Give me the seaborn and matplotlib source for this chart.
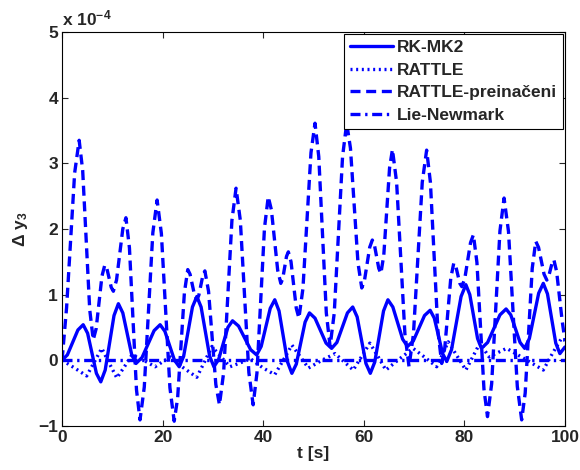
import matplotlib
matplotlib.use("Agg")
import matplotlib.pyplot as plt
import seaborn as sns

# -----------------------------
# Data (units of 1e-4)
# -----------------------------
t_rk = [0, 1.05, 3.15, 4.2, 5.08, 6.83, 7.7, 8.58, 10.33, 11.2, 12.08, 13.83, 14.7,
        15.9, 18.3, 19.5, 20.45, 22.35, 23.3, 24.18, 25.93, 26.8, 27.65, 29.35, 30.2,
        31.13, 32.98, 33.9, 35.1, 37.5, 38.7, 39.6, 41.4, 42.3, 43.15, 44.85, 45.7,
        46.58, 48.33, 49.2, 50.3, 52.5, 53.6, 54.65, 56.75, 57.8, 58.68, 60.43, 61.3,
        62.18, 63.93, 64.8, 65.78, 67.73, 68.7, 69.83, 72.08, 73.2, 74.03, 75.68, 76.5,
        77.45, 79.35, 80.3, 81.08, 82.63, 83.4, 84.63, 87.08, 88.3, 89.23, 91.08, 92.0,
        92.93, 94.78, 95.7, 96.53, 98.18, 99.0, 100]
rk_mk2 = [0, 0.08, 0.46, 0.54, 0.41, -0.20, -0.33, -0.15, 0.68, 0.86, 0.72, 0.09, -0.05,
          0.04, 0.45, 0.54, 0.44, 0.0, -0.10, 0.06, 0.81, 0.97, 0.81, 0.06, -0.10,
          0.01, 0.50, 0.60, 0.52, 0.16, 0.08, 0.21, 0.79, 0.92, 0.75, -0.03, -0.20,
          -0.06, 0.58, 0.72, 0.64, 0.26, 0.18, 0.27, 0.72, 0.81, 0.66, -0.05, -0.20,
          -0.03, 0.75, 0.92, 0.81, 0.32, 0.21, 0.29, 0.68, 0.76, 0.64, 0.10, -0.02,
          0.16, 0.97, 1.15, 1.00, 0.33, 0.18, 0.27, 0.69, 0.78, 0.69, 0.27, 0.18,
          0.33, 1.02, 1.17, 1.01, 0.26, 0.10, 0.20]

t_rat = [0, 2.5, 4.9, 6.4, 7.9, 9.4, 10.9, 12.4, 13.9, 16.2, 18.5, 21.5, 24.2, 26.8,
         28.3, 29.8, 31.6, 33.4, 37.5, 40.0, 42.3, 44.0, 45.7, 47.3, 49.0, 51.7, 54.3,
         57.9, 59.6, 61.2, 62.8, 64.4, 67.1, 69.8, 72.2, 74.5, 76.8, 78.5, 80.3, 83.1,
         84.9, 88.4, 92.0, 95.7, 97.5, 99.3, 100]
rattle = [0, -0.12, -0.24, -0.03, 0.18, -0.05, -0.27, -0.10, 0.08, 0.0, -0.10, 0.05,
          -0.12, -0.26, -0.03, 0.21, 0.05, -0.10, 0.02, -0.12, -0.22, 0.0, 0.23, 0.06,
          -0.12, 0.0, 0.10, -0.15, 0.06, 0.26, 0.06, -0.15, 0.02, 0.18, 0.04, -0.10,
          0.28, 0.07, -0.15, 0.26, 0.05, 0.18, 0.02, -0.15, 0.10, 0.33, 0.30]

t_rp = [0, 0.9, 2.5, 3.4, 4.1, 5.5, 6.2, 6.78, 7.93, 8.5, 8.93, 9.78, 10.2, 10.83,
        12.08, 12.7, 13.4, 14.8, 15.5, 16.35, 18.05, 18.9, 19.75, 21.45, 22.3, 22.98,
        24.33, 25.0, 25.45, 26.35, 26.8, 27.2, 28.0, 28.4, 29.13, 30.58, 31.3, 32.13,
        33.78, 34.6, 35.45, 37.15, 38.0, 38.75, 40.25, 41.0, 41.63, 42.88, 43.5, 43.88,
        44.63, 45.0, 45.53, 46.58, 47.1, 47.9, 49.5, 50.3, 51.05, 52.55, 53.3, 54.13,
        55.78, 56.6, 57.35, 58.85, 59.6, 60.13, 61.18, 61.7, 62.13, 62.98, 63.4, 63.98,
        65.13, 65.7, 66.53, 68.18, 69.0, 69.88, 71.63, 72.5, 73.25, 74.75, 75.5, 76.1,
        77.3, 77.9, 78.3, 79.1, 79.5, 80.08, 81.23, 81.8, 82.5, 83.9, 84.6, 85.43,
        87.08, 87.9, 88.78, 90.53, 91.4, 92.1, 93.5, 94.2, 94.75, 95.85, 96.4, 96.75,
        97.45, 97.8, 98.35, 99.45, 100]
rattle_pre = [0, 0.80, 2.85, 3.35, 2.89, 0.77, 0.31, 0.48, 1.28, 1.45, 1.39, 1.11, 1.05,
              1.22, 2.00, 2.17, 1.71, -0.45, -0.91, -0.41, 1.94, 2.44, 1.93, -0.42, -0.93,
              -0.58, 1.03, 1.38, 1.31, 0.99, 0.92, 0.99, 1.29, 1.36, 1.05, -0.37, -0.68,
              -0.19, 2.13, 2.62, 2.13, -0.19, -0.68, -0.20, 2.01, 2.49, 2.29, 1.37, 1.17,
              1.24, 1.58, 1.65, 1.50, 0.79, 0.64, 1.09, 3.16, 3.61, 3.10, 0.72, 0.21,
              0.72, 3.10, 3.61, 3.23, 1.48, 1.10, 1.21, 1.72, 1.83, 1.75, 1.40, 1.32,
              1.60, 2.93, 3.21, 2.71, 0.40, -0.10, 0.40, 2.71, 3.20, 2.71, 0.44, -0.05,
              0.18, 1.25, 1.48, 1.43, 1.17, 1.12, 1.24, 1.79, 1.91, 1.49, -0.44, -0.86,
              -0.36, 1.97, 2.47, 1.96, -0.40, -0.91, -0.50, 1.40, 1.81, 1.72, 1.31, 1.22,
              1.27, 1.48, 1.53, 1.35, 0.60, 0.30]

t_ln = [0, 25, 50, 75, 100]
lie_newmark = [0, 0, 0, 0, 0]

labels = ["RK-MK2", "RATTLE", "RATTLE-preinačeni", "Lie-Newmark"]

# -----------------------------
# Style
# -----------------------------
sns.set_style("ticks")
plt.rcParams["font.family"] = ["Liberation Sans", "DejaVu Sans"]
plt.rcParams["font.weight"] = "bold"
plt.rcParams["mathtext.fontset"] = "custom"
plt.rcParams["mathtext.rm"] = "Liberation Sans:bold"
plt.rcParams["mathtext.bf"] = "Liberation Sans:bold"
plt.rcParams["mathtext.it"] = "Liberation Sans:bold"
plt.rcParams["mathtext.default"] = "bf"

fig = plt.figure(figsize=(5.8, 4.7), dpi=100)
ax = fig.add_axes([0.107, 0.094, 0.867, 0.838])

blue = "#0000ff"
lw = 2.4
sns.lineplot(x=t_rk, y=rk_mk2, ax=ax, color=blue, lw=lw, estimator=None,
             label=labels[0])
sns.lineplot(x=t_rat, y=rattle, ax=ax, color=blue, lw=lw, estimator=None,
             label=labels[1])
sns.lineplot(x=t_rp, y=rattle_pre, ax=ax, color=blue, lw=lw, estimator=None,
             label=labels[2])
sns.lineplot(x=t_ln, y=lie_newmark, ax=ax, color=blue, lw=lw, estimator=None,
             label=labels[3])
lines = ax.get_lines()
lines[1].set_dashes((0.6, 1.1))
lines[2].set_dashes((3.0, 1.7))
lines[3].set_dashes((3.0, 1.4, 0.7, 1.4))

ax.set_xlim(0, 100)
ax.set_ylim(-1, 5)
ax.set_xticks([0, 20, 40, 60, 80, 100])
ax.set_yticks([-1, 0, 1, 2, 3, 4, 5])
ax.tick_params(direction="in", top=True, right=True, length=4, width=0.8,
               labelsize=12.5, pad=3)
for lab in ax.get_xticklabels() + ax.get_yticklabels():
    lab.set_fontweight("bold")
for s in ax.spines.values():
    s.set_linewidth(0.8)
    s.set_color("black")

ax.set_xlabel("t [s]", fontsize=12.5, fontweight="bold", labelpad=1)
ax.set_ylabel(r"$\Delta$ y$_3$", fontsize=12.5, fontweight="bold", labelpad=6)
ax.text(0.0, 1.008, r"x 10$^{-4}$", transform=ax.transAxes, fontsize=12.5,
        fontweight="bold", ha="left", va="bottom")

leg = ax.legend(loc="upper right", fontsize=12.5, handlelength=2.5, handletextpad=0.2,
                borderpad=0.35, labelspacing=0.42, fancybox=False, framealpha=1,
                edgecolor="black", borderaxespad=0.12)
leg.get_frame().set_linewidth(0.8)
for txt in leg.get_texts():
    txt.set_fontweight("bold")

fig.savefig("out.png", dpi=100)
